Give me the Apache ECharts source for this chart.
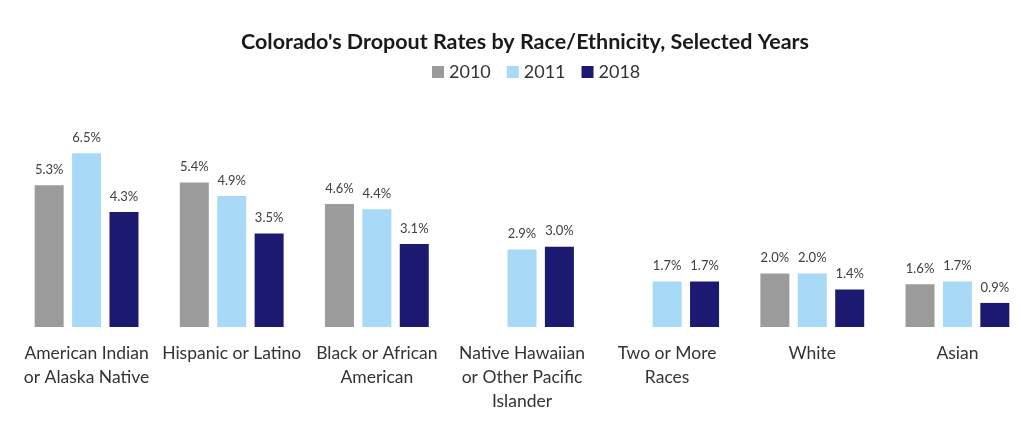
<!DOCTYPE html>
<html>
<head>
<meta charset="utf-8">
<script src="https://cdn.jsdelivr.net/npm/echarts@6/dist/echarts.min.js"></script>
<style>
  html, body { margin: 0; padding: 0; background: #fff; }
  #chart { width: 1021px; height: 441px; }
</style>
</head>
<body>
<div id="chart"></div>
<script>
// 类别与数据
var categories = [
  'American Indian\nor Alaska Native',
  'Hispanic or Latino',
  'Black or African\nAmerican',
  'Native Hawaiian\nor Other Pacific\nIslander',
  'Two or More\nRaces',
  'White',
  'Asian'
];
var rates2010 = [5.3, 5.4, 4.6, null, null, 2.0, 1.6];
var rates2011 = [6.5, 4.9, 4.4, 2.9, 1.7, 2.0, 1.7];
var rates2018 = [4.3, 3.5, 3.1, 3.0, 1.7, 1.4, 0.9];
var seriesNames = ['2010', '2011', '2018'];

var font = 'Lato, "Open Sans", sans-serif';

var barLabel = {
  show: true,
  position: 'top',
  distance: 9,
  fontFamily: font,
  fontSize: 13,
  color: '#404040',
  formatter: function (p) { return p.value == null ? '' : p.value.toFixed(1) + '%'; }
};

var chart = echarts.init(document.getElementById('chart'));

chart.setOption({
  animation: false,
  title: {
    text: "Colorado's Dropout Rates by Race/Ethnicity, Selected Years",
    left: 236,
    top: 26,
    textStyle: { fontFamily: font, fontSize: 21.5, fontWeight: 'bold', color: '#1a1a1a' }
  },
  legend: {
    data: seriesNames,
    top: 58,
    left: 427,
    itemWidth: 12,
    itemHeight: 12,
    itemGap: 16,
    icon: 'rect',
    textStyle: { fontFamily: font, fontSize: 18, color: '#333' }
  },
  grid: { left: 14, width: 1016, top: 113, bottom: 114, outerBoundsMode: 'none' },
  xAxis: {
    type: 'category',
    data: categories,
    axisLine: { show: false },
    axisTick: { show: false },
    axisLabel: {
      interval: 0,
      margin: 14,
      fontFamily: font,
      fontSize: 17.5,
      lineHeight: 24,
      color: '#333'
    }
  },
  yAxis: {
    type: 'value',
    min: 0,
    max: 8,
    show: false,
    splitLine: { show: false }
  },
  series: [
    { name: '2010', type: 'bar', data: rates2010, barWidth: 29, barGap: '29%',
      itemStyle: { color: '#9b9b9b' }, label: barLabel },
    { name: '2011', type: 'bar', data: rates2011, barWidth: 29, barGap: '29%',
      itemStyle: { color: '#a8d9f6' }, label: barLabel },
    { name: '2018', type: 'bar', data: rates2018, barWidth: 29, barGap: '29%',
      itemStyle: { color: '#1b1a70' }, label: barLabel }
  ]
});
</script>
</body>
</html>
